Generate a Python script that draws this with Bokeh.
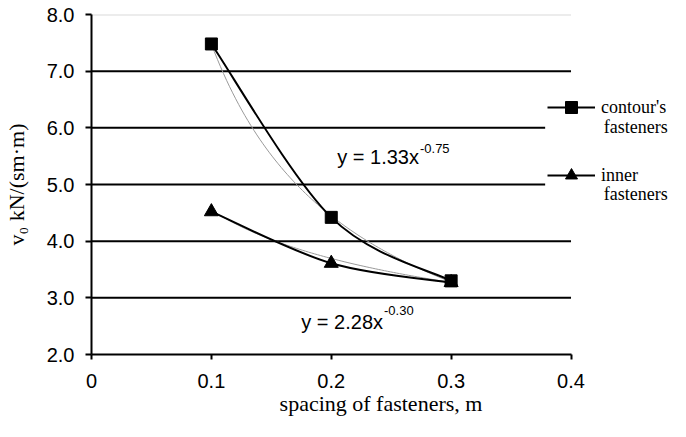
import numpy as np
from bokeh.plotting import figure
from bokeh.models import (Legend, LegendItem, Label, FixedTicker, BoxAnnotation,
                          NumeralTickFormatter, ColumnDataSource)
from bokeh.embed import file_html
from bokeh.resources import INLINE

# ---- data ----
spacing = [0.1, 0.2, 0.3]
contour = [7.48, 4.42, 3.30]
inner = [4.52, 3.61, 3.27]
trend_coef = [1.33, 2.28]
trend_exp = [-0.75, -0.30]
series_first_line = ["contour's", "inner"]
series_second_line = ["fasteners", "fasteners"]
x_ticks = [0, 0.1, 0.2, 0.3, 0.4]
y_ticks = [2, 3, 4, 5, 6, 7, 8]


def smooth_segments(xs, ys):
    """Excel-style smoothed line: one cubic Bezier per segment (Catmull-Rom tangents)."""
    n = len(xs)
    d = dict(x0=[], y0=[], x1=[], y1=[], cx0=[], cy0=[], cx1=[], cy1=[])
    for i in range(n - 1):
        xp, yp = (xs[i - 1], ys[i - 1]) if i > 0 else (xs[i], ys[i])
        xn, yn = (xs[i + 2], ys[i + 2]) if i + 2 < n else (xs[i + 1], ys[i + 1])
        d["x0"].append(xs[i]); d["y0"].append(ys[i])
        d["x1"].append(xs[i + 1]); d["y1"].append(ys[i + 1])
        d["cx0"].append(xs[i] + (xs[i + 1] - xp) / 6.0)
        d["cy0"].append(ys[i] + (ys[i + 1] - yp) / 6.0)
        d["cx1"].append(xs[i + 1] - (xn - xs[i]) / 6.0)
        d["cy1"].append(ys[i + 1] - (yn - ys[i]) / 6.0)
    return ColumnDataSource(d)


# frame is widened to the right so the legend can sit over the plot's right edge
x_end = x_ticks[-1] * 582.0 / 482.0
p = figure(width=670, height=421, x_range=(x_ticks[0], x_end),
           y_range=(y_ticks[0], y_ticks[-1]),
           output_backend="svg", toolbar_location=None,
           min_border_left=88, min_border_right=0,
           min_border_top=14, min_border_bottom=67)
p.outline_line_color = None
p.background_fill_color = "white"
p.border_fill_color = "white"
p.xgrid.visible = False
p.ygrid.visible = False

# horizontal grid lines, limited to the x axis extent
gy = y_ticks[1:-1]
p.segment(x0=[x_ticks[0]] * len(gy), x1=[x_ticks[-1]] * len(gy), y0=gy, y1=gy,
          line_color="black", line_width=2)
p.segment(x0=[x_ticks[0]], x1=[x_ticks[-1]], y0=y_ticks[-1:], y1=y_ticks[-1:],
          line_color="#d9d9d9", line_width=2)

# axes
for ax in (p.xaxis[0], p.yaxis[0]):
    ax.axis_line_width = 2
    ax.axis_line_color = "black"
    ax.major_tick_line_width = 2
    ax.major_tick_line_color = "black"
    ax.major_tick_in = 0
    ax.minor_tick_line_color = None
    ax.major_label_text_font = "Liberation Sans"
    ax.major_label_text_font_size = "20px"
    ax.major_label_text_color = "black"
    ax.axis_label_text_font = "Liberation Serif"
    ax.axis_label_text_font_size = "22px"
    ax.axis_label_text_font_style = "normal"
    ax.axis_label_text_color = "black"

p.xaxis.bounds = (x_ticks[0], x_ticks[-1])
p.xaxis.ticker = FixedTicker(ticks=x_ticks)
p.xaxis.formatter = NumeralTickFormatter(format="0.[0]")
p.xaxis.major_tick_out = 5
p.xaxis.major_label_standoff = 14
p.xaxis.axis_label = "spacing of fasteners, m"
p.xaxis.axis_label_standoff = 0

p.yaxis.ticker = FixedTicker(ticks=y_ticks)
p.yaxis.formatter = NumeralTickFormatter(format="0.0")
p.yaxis.major_tick_out = 6
p.yaxis.major_label_standoff = 11
p.yaxis.axis_label = "v\u2080 kN/(sm\u00b7m)"
p.yaxis.axis_label_standoff = 15

# trend lines (power fits shown on the chart)
for a, b in zip(trend_coef, trend_exp):
    xt = np.linspace(min(spacing), max(spacing), 80)
    p.line(xt, a * xt ** b, line_color="#9a9a9a", line_width=1)

# smoothed data lines + markers
items = []
for ys, marker, size, name in ((contour, "square", 12, series_first_line[0]),
                               (inner, "triangle", 14, series_first_line[1])):
    src = smooth_segments(spacing, ys)
    br = p.bezier(x0="x0", y0="y0", x1="x1", y1="y1", cx0="cx0", cy0="cy0",
                  cx1="cx1", cy1="cy1", source=src, line_color="black", line_width=2)
    sr = p.scatter(spacing, ys, marker=marker, size=size,
                   fill_color="black", line_color="black")
    items.append(LegendItem(label=name, renderers=[br, sr]))

# white legend area (covers the grid lines behind the legend)
legend_left = 456 / 482.0 * x_ticks[-1]
p.add_layout(BoxAnnotation(left=legend_left, right=x_end, top=6.80, bottom=4.45,
                           fill_color="white", fill_alpha=1.0, line_color=None,
                           level="annotation"))

legend = Legend(items=items, location=(456, 164), orientation="vertical",
                glyph_width=48, glyph_height=30, label_standoff=6,
                label_text_font="Liberation Serif", label_text_font_size="18px",
                label_text_color="black", padding=5, margin=0, spacing=38,
                border_line_color=None, background_fill_alpha=0.0)
p.add_layout(legend, "center")

# second lines of the two legend labels
legend_text_x = (456 + 5 + 48 + 6) / 482.0 * x_ticks[-1]
for txt, yy in zip(series_second_line, (6.006, 4.841)):
    p.add_layout(Label(x=legend_text_x, y=yy, text=txt, text_font="Liberation Serif",
                       text_font_size="18px", text_baseline="middle",
                       text_color="black", level="overlay"))

# trend equations
p.add_layout(Label(x=0.205, y=5.477, text="y = 1.33x", text_font="Liberation Sans",
                   text_font_size="20px", text_baseline="middle", text_color="black"))
p.add_layout(Label(x=0.274, y=5.635, text="-0.75", text_font="Liberation Sans",
                   text_font_size="13px", text_baseline="middle", text_color="black"))
p.add_layout(Label(x=0.175, y=2.565, text="y = 2.28x", text_font="Liberation Sans",
                   text_font_size="20px", text_baseline="middle", text_color="black"))
p.add_layout(Label(x=0.244, y=2.777, text="-0.30", text_font="Liberation Sans",
                   text_font_size="13px", text_baseline="middle", text_color="black"))

open("out.html", "w").write(file_html(p, INLINE))
